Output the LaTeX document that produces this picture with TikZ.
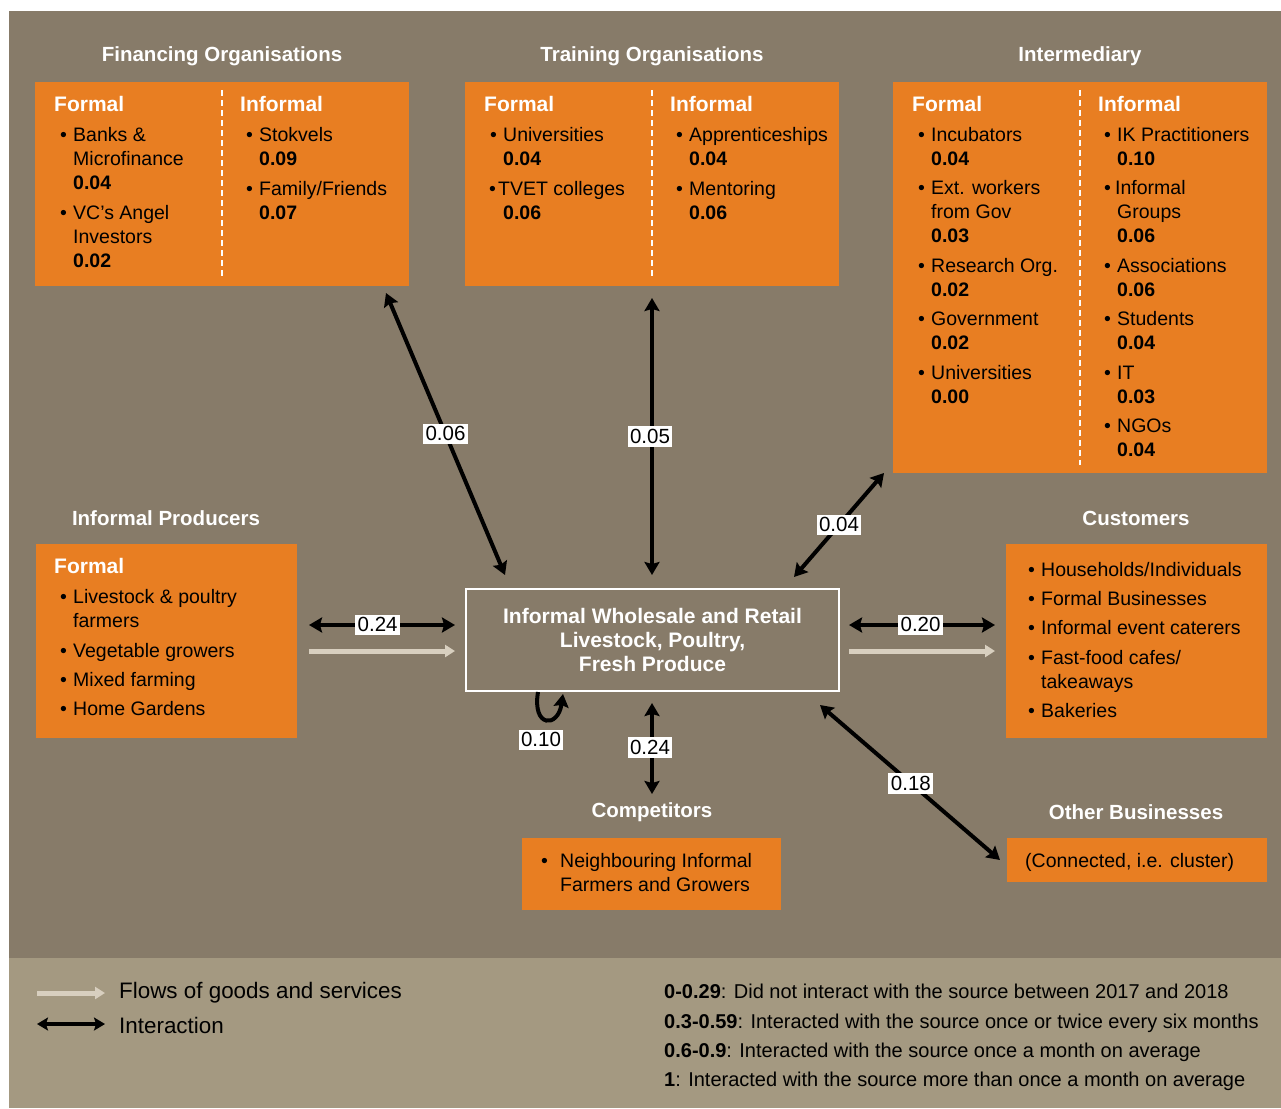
\documentclass[tikz,border=0pt]{standalone}
\usepackage{fontspec}
\setmainfont{Liberation Sans}
\usetikzlibrary{arrows.meta}

\definecolor{bgbrown}{HTML}{877B69}
\definecolor{legbg}{HTML}{A49981}
\definecolor{boxorange}{HTML}{E87E22}
\definecolor{flowgrey}{HTML}{D8CFBF}

% bullet lines inside the orange panels
\newcommand\bul{\hspace*{6pt}\makebox[13pt][l]{\textbullet}}
\newcommand\cont{\hspace*{19pt}}
\newcommand\nval[1]{\hspace*{19pt}\textbf{#1}}
\newcommand\hd[1]{{\fontsize{21}{24}\selectfont\bfseries\color{white}#1}}

\tikzset{
  panel/.style={fill=boxorange, draw=none, anchor=north west, inner sep=0},
  title/.style={font=\fontsize{20.5}{24}\selectfont\bfseries, text=white, inner sep=0},
  col/.style={anchor=north west, inner sep=0, align=left, font=\fontsize{19.5}{24}\selectfont},
  divider/.style={white, line width=1.5pt, dash pattern=on 6pt off 4pt},
  link/.style={line width=4pt, black,
    {Stealth[length=13pt,width=15pt,inset=2pt]}-{Stealth[length=13pt,width=15pt,inset=2pt]}},
  onelink/.style={line width=4pt, black, -{Stealth[length=13pt,width=15pt,inset=2pt]}},
  flow/.style={line width=5pt, flowgrey, -{Triangle[length=10pt,width=12pt]}},
  lab/.style={fill=white, text=black, inner xsep=2.5pt, inner ysep=2pt,
    font=\fontsize{20.5}{23}\selectfont, text height=15pt, text depth=1.5pt},
}

\begin{document}
\begin{tikzpicture}[x=1pt, y=-1pt]
  % canvas
  \fill[white] (0,0) rectangle (1281,1108);
  \useasboundingbox (0,0) rectangle (1281,1108);
  \fill[bgbrown] (9,11) rectangle (1281,958);
  \fill[legbg] (9,958) rectangle (1281,1108);

  % ---------- Financing organisations ----------
  \node[title] (fint) at (222,56) {Financing Organisations};
  \node[panel, minimum width=374pt, minimum height=204pt] (fin) at (35,82) {};
  \draw[divider] (222,90) -- (222,278);
  \node[col] (finA) at (54,96) {\hd{Formal}\\[6pt]
    \bul Banks \&\\ \cont Microfinance\\ \nval{0.04}\\[6pt]
    \bul VC’s Angel\\ \cont Investors\\ \nval{0.02}};
  \node[col] (finB) at (240,96) {\hd{Informal}\\[6pt]
    \bul Stokvels\\ \nval{0.09}\\[6pt]
    \bul Family/Friends\\ \nval{0.07}};

  % ---------- Training organisations ----------
  \node[title] (trat) at (652,56) {Training Organisations};
  \node[panel, minimum width=374pt, minimum height=204pt] (tra) at (465,82) {};
  \draw[divider] (652,90) -- (652,278);
  \node[col] (traA) at (484,96) {\hd{Formal}\\[6pt]
    \bul Universities\\ \nval{0.04}\\[6pt]
    \hspace*{5pt}\makebox[9pt][l]{\textbullet}TVET colleges\\ \nval{0.06}};
  \node[col] (traB) at (670,96) {\hd{Informal}\\[6pt]
    \bul Apprenticeships\\ \nval{0.04}\\[6pt]
    \bul Mentoring\\ \nval{0.06}};

  % ---------- Intermediary ----------
  \node[title] (intt) at (1080,56) {Intermediary};
  \node[panel, minimum width=374pt, minimum height=391pt] (int) at (893,82) {};
  \draw[divider] (1080,90) -- (1080,465);
  \node[col] (intA) at (912,96) {\hd{Formal}\\[6pt]
    \bul Incubators\\ \nval{0.04}\\[5.5pt]
    \bul Ext. workers\\ \cont from Gov\\ \nval{0.03}\\[5.5pt]
    \bul Research Org.\\ \nval{0.02}\\[5.5pt]
    \bul Government\\ \nval{0.02}\\[5.5pt]
    \bul Universities\\ \nval{0.00}};
  \node[col] (intB) at (1098,96) {\hd{Informal}\\[6pt]
    \bul IK Practitioners\\ \nval{0.10}\\[5.5pt]
    \hspace*{6pt}\makebox[11pt][l]{\textbullet}Informal\\ \cont Groups\\ \nval{0.06}\\[5.5pt]
    \bul Associations\\ \nval{0.06}\\[5.5pt]
    \bul Students\\ \nval{0.04}\\[5.5pt]
    \bul IT\\ \nval{0.03}\\[5.5pt]
    \bul NGOs\\ \nval{0.04}};

  % ---------- Informal producers ----------
  \node[title] (prot) at (166,518) {Informal Producers};
  \node[panel, minimum width=261pt, minimum height=194pt] (pro) at (36,544) {};
  \node[col] (proA) at (54,558) {\hd{Formal}\\[6pt]
    \bul Livestock \& poultry\\ \cont farmers\\[6pt]
    \bul Vegetable growers\\[5pt]
    \bul Mixed farming\\[5pt]
    \bul Home Gardens};

  % ---------- Customers ----------
  \node[title] (cust) at (1136,518) {Customers};
  \node[panel, minimum width=261pt, minimum height=194pt] (cus) at (1006,544) {};
  \node[col] (cusA) at (1022,562) {%
    \bul Households/Individuals\\[5pt]
    \bul Formal Businesses\\[5pt]
    \bul Informal event caterers\\[6pt]
    \bul Fast-food cafes/\\ \cont takeaways\\[5pt]
    \bul Bakeries};

  % ---------- Competitors ----------
  \node[title] (comt) at (652,812) {Competitors};
  \node[panel, minimum width=259pt, minimum height=72pt] (com) at (522,838) {};
  \node[col] (comA) at (541,853) {%
    \hspace*{0pt}\makebox[19pt][l]{\textbullet}Neighbouring Informal\\
    \hspace*{19pt}Farmers and Growers};

  % ---------- Other businesses ----------
  \node[title] (otht) at (1136,812) {Other Businesses};
  \node[panel, minimum width=260pt, minimum height=44pt] (oth) at (1007,838) {};
  \node[col] (othA) at (1025,853) {(Connected, i.e. cluster)};

  % ---------- central node ----------
  \node[draw=white, line width=1.5pt, minimum width=373pt, minimum height=102pt,
        inner sep=0, align=center, text=white,
        font=\fontsize{21}{24}\selectfont\bfseries] (hub) at (652.5,640)
        {Informal Wholesale and Retail\\Livestock, Poultry,\\Fresh Produce};

  % ---------- connector end points ----------
  \coordinate (finE) at (386,293);   \coordinate (hubF) at (505,575);
  \coordinate (traE) at (652,298);   \coordinate (hubT) at (652,575);
  \coordinate (intE) at (884,473);   \coordinate (hubI) at (794,577);
  \coordinate (proE) at (309,625);   \coordinate (hubP) at (455,625);
  \coordinate (proF) at (309,651);   \coordinate (hubPF) at (455,651);
  \coordinate (hubC) at (849,625);   \coordinate (cusE) at (995,625);
  \coordinate (hubCF) at (849,651);  \coordinate (cusF) at (995,651);
  \coordinate (hubB) at (652,703);   \coordinate (comE) at (652,794);
  \coordinate (hubO) at (820,705);   \coordinate (othE) at (1000,860);
  \coordinate (loopA) at (538,692);  \coordinate (loopB) at (563,694);

  % ---------- connectors ----------
  \draw[link] (finE) -- node[lab, pos=0.5] (l1) {0.06} (hubF);
  \draw[link] (traE) -- node[lab, pos=0.5, xshift=-2pt] (l2) {0.05} (hubT);
  \draw[link] (intE) -- node[lab, pos=0.5] (l3) {0.04} (hubI);
  \draw[link] (proE) -- node[lab, pos=0.47] (l4) {0.24} (hubP);
  \draw[flow] (proF) -- (hubPF);
  \draw[link] (hubC) -- node[lab, pos=0.49] (l5) {0.20} (cusE);
  \draw[flow] (hubCF) -- (cusF);
  \draw[link] (hubB) -- node[lab, pos=0.49, xshift=-2pt] (l6) {0.24} (comE);
  \draw[link] (hubO) -- node[lab, pos=0.505] (l7) {0.18} (othE);
  \draw[onelink] (loopA) .. controls (532,728) and (558,728) .. (loopB);
  \node[lab] (l8) at (541,740) {0.10};

  % ---------- legend ----------
  \coordinate (lgA) at (37,993);  \coordinate (lgB) at (105,993);
  \coordinate (lgC) at (37,1024); \coordinate (lgD) at (105,1024);
  \draw[flow] (lgA) -- (lgB);
  \draw[line width=4pt, {Stealth[length=11pt,width=13pt,inset=2pt]}-{Stealth[length=11pt,width=13pt,inset=2pt]}] (lgC) -- (lgD);
  \node[anchor=west, inner sep=0, font=\fontsize{22.4}{26}\selectfont] (lg1) at (119,993) {Flows of goods and services};
  \node[anchor=west, inner sep=0, font=\fontsize{22.4}{26}\selectfont] (lg2) at (119,1025) {Interaction};
  \node[anchor=north west, inner sep=0, align=left, font=\fontsize{20}{29.3}\selectfont] (scale) at (664,984) {%
    \textbf{0-0.29}: Did not interact with the source between 2017 and 2018\\
    \textbf{0.3-0.59}: Interacted with the source once or twice every six months\\
    \textbf{0.6-0.9}: Interacted with the source once a month on average\\
    \textbf{1}: Interacted with the source more than once a month on average};
\end{tikzpicture}
\end{document}
